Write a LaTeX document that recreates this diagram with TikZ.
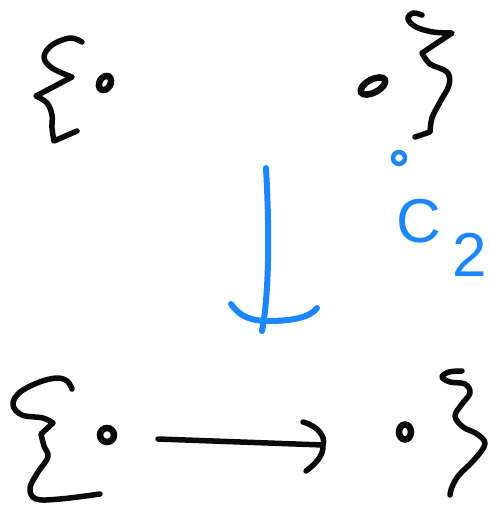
\documentclass[tikz,border=0pt]{standalone}
\usepackage{fontspec}
\setmainfont{Liberation Sans}
\usetikzlibrary{shapes.geometric}
\definecolor{ink}{RGB}{10,10,10}
\definecolor{pen}{RGB}{28,134,255}
\begin{document}
\begin{tikzpicture}[x=1pt,y=-1pt,
  stroke/.style={line width=5.5pt,line cap=round,line join=round,draw=ink},
  bstroke/.style={line width=6pt,line cap=round,line join=round,draw=pen},
  dot/.style={ellipse,draw=ink,line width=6.5pt,inner sep=0pt},
  lab/.style={text=pen,font=\fontsize{62}{62}\selectfont,inner sep=0pt}]
\useasboundingbox[fill=white] (0,0) rectangle (489,507);

% dots (elements of the sets)
\node[dot,minimum width=15pt,minimum height=11pt,rotate=60] (tl) at (105,83) {};
\node[dot,minimum width=27pt,minimum height=13pt,rotate=28] (tr) at (373,86) {};
\node[dot,minimum width=14pt,minimum height=14pt] (bl) at (107,435) {};
\node[dot,minimum width=12pt,minimum height=15pt] (br) at (405,432) {};

% braces
\draw[stroke] plot[smooth,tension=0.6] coordinates {(82,42) (70,38) (52,45) (44,57) (52,68) (72,77)}
  -- (36,96) -- plot[smooth,tension=0.6] coordinates {(36,96) (47,103) (52,115) (52,128) (54,141)}
  -- (77,131);
\draw[stroke] plot[smooth,tension=0.6] coordinates {(422,15) (413,13) (408,19) (416,27) (433,32) (452,33)}
  -- (422,53) -- plot[smooth,tension=0.6] coordinates {(422,53) (430,64) (447,72) (449,85) (440,102) (432,118) (430,132)}
  -- (415,137);
\draw[stroke] plot[smooth,tension=0.6] coordinates {(72,389) (67,381) (56,378) (37,383) (19,393) (13,405) (22,415) (43,418) (53,423)}
  -- (41,434) -- plot[smooth,tension=0.6] coordinates {(41,434) (44,446) (48,457) (38,472) (30,488) (36,499) (60,499) (100,494)};
\draw[stroke] plot[smooth,tension=0.6] coordinates {(462,371) (449,372) (442,377) (450,382) (465,384) (470,393) (462,404) (455,416) (463,427) (477,434) (485,444) (474,460) (459,475) (452,487) (450,495)};

% bottom arrow
\coordinate (hs) at (158,439);
\coordinate (he) at (323,445);
\draw[stroke] (hs) -- (he);
\draw[stroke] (303,422) .. controls (318,426) and (326,437) .. (he) .. controls (324,456) and (314,465) .. (306,471);

% blue vertical arrow
\coordinate (vs) at (266,168);
\coordinate (ve) at (262,331);
\draw[bstroke] (vs) .. controls (269,220) and (270,290) .. (ve);
\draw[bstroke] (231,304) .. controls (240,317) and (252,321) .. (268,321) .. controls (290,321) and (310,318) .. (317,308);

% label
\node[circle,draw=pen,line width=4.5pt,minimum size=12pt,inner sep=0pt] (deg) at (399,158) {};
\node[lab] (c) at (419,221) {C};
\node[lab] (two) at (470,255) {2};
\end{tikzpicture}
\end{document}
